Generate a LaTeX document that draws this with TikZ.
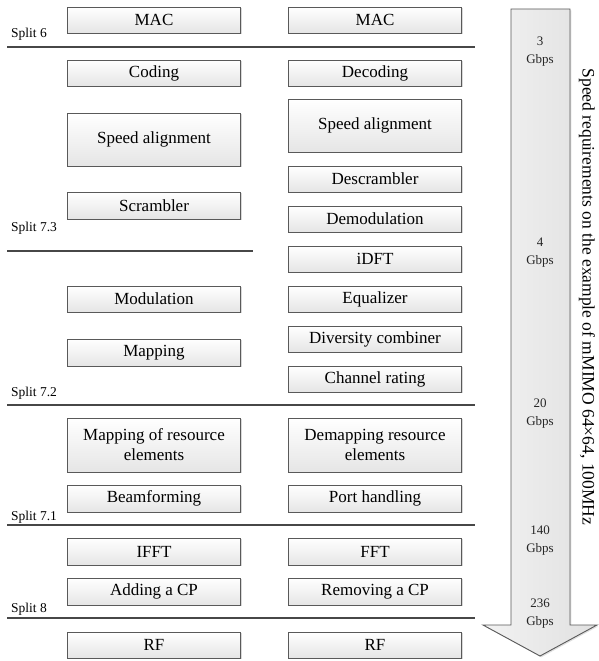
\documentclass[tikz,border=0pt]{standalone}
\usepackage{fontspec}
\setmainfont{Liberation Serif}
\usetikzlibrary{shadows}
\begin{document}
\begin{tikzpicture}[x=1pt,y=-1pt,
  blk/.style={draw=black!65, line width=0.9pt, top color=white, bottom color=black!10,
    minimum width=173pt, inner sep=0pt, align=center,
    font=\fontsize{17}{20}\selectfont,
    drop shadow={shadow xshift=1.3pt, shadow yshift=-1.3pt, opacity=0.3}},
  splitline/.style={draw=black!72, line width=1.3pt},
  splitlbl/.style={anchor=west, inner sep=0pt, font=\fontsize{13.5}{15}\selectfont},
  rate/.style={align=center, inner sep=0pt, font=\fontsize{13}{18}\selectfont, text=black!85},
]
\useasboundingbox (0,0) rectangle (598,661);

% arrow
\draw[draw=black!65, line width=0.9pt, left color=black!5, right color=black!12,
      drop shadow={shadow xshift=1.3pt, shadow yshift=-1.3pt, opacity=0.25}]
  (511,9) -- (570,9) -- (570,625) -- (597,625) -- (540,656) -- (483,625) -- (511,625) -- cycle;

% left column
\node[blk, minimum height=26pt] (macL) at (154,20) {MAC};
\node[blk, minimum height=26pt] (coding) at (154,73) {Coding};
\node[blk, minimum height=53pt] (speedL) at (154,139.5) {Speed alignment};
\node[blk, minimum height=27pt] (scr) at (154,205.5) {Scrambler};
\node[blk, minimum height=26pt] (mod) at (154,299) {Modulation};
\node[blk, minimum height=27pt] (mapp) at (154,352.5) {Mapping};
\node[blk, minimum height=54pt] (mapre) at (154,445) {Mapping of resource\\elements};
\node[blk, minimum height=27pt] (beam) at (154,498.5) {Beamforming};
\node[blk, minimum height=27pt] (ifft) at (154,551.5) {IFFT};
\node[blk, minimum height=27pt] (addcp) at (154,591.5) {Adding a CP};
\node[blk, minimum height=26pt] (rfL) at (154,645) {RF};

% right column
\node[blk, minimum height=26pt] (macR) at (375,20) {MAC};
\node[blk, minimum height=26pt] (decoding) at (375,73) {Decoding};
\node[blk, minimum height=53pt] (speedR) at (375,125.5) {Speed alignment};
\node[blk, minimum height=26pt] (descr) at (375,179) {Descrambler};
\node[blk, minimum height=26pt] (demod) at (375,219) {Demodulation};
\node[blk, minimum height=26pt] (idft) at (375,259) {iDFT};
\node[blk, minimum height=26pt] (eq) at (375,299) {Equalizer};
\node[blk, minimum height=26pt] (div) at (375,339) {Diversity combiner};
\node[blk, minimum height=26pt] (chan) at (375,379) {Channel rating};
\node[blk, minimum height=54pt] (demapre) at (375,445) {Demapping resource\\elements};
\node[blk, minimum height=27pt] (port) at (375,498.5) {Port handling};
\node[blk, minimum height=27pt] (fft) at (375,551.5) {FFT};
\node[blk, minimum height=27pt] (remcp) at (375,591.5) {Removing a CP};
\node[blk, minimum height=26pt] (rfR) at (375,645) {RF};

% split lines
\coordinate (s6a) at (7,47);   \coordinate (s6b) at (475,47);
\coordinate (s73a) at (7,251); \coordinate (s73b) at (253,251);
\coordinate (s72a) at (7,405); \coordinate (s72b) at (475,405);
\coordinate (s71a) at (7,525); \coordinate (s71b) at (475,525);
\coordinate (s8a) at (7,618);  \coordinate (s8b) at (475,618);
\draw[splitline] (s6a) -- (s6b);
\draw[splitline] (s73a) -- (s73b);
\draw[splitline] (s72a) -- (s72b);
\draw[splitline] (s71a) -- (s71b);
\draw[splitline] (s8a) -- (s8b);

\node[splitlbl] (l6) at (11,34) {Split 6};
\node[splitlbl] (l73) at (11,228) {Split 7.3};
\node[splitlbl] (l72) at (11,393) {Split 7.2};
\node[splitlbl] (l71) at (11,517) {Split 7.1};
\node[splitlbl] (l8) at (11,609) {Split 8};

% rates
\node[rate] (r1) at (540,52) {3\\Gbps};
\node[rate] (r2) at (540,253) {4\\Gbps};
\node[rate] (r3) at (540,414) {20\\Gbps};
\node[rate] (r4) at (540,541) {140\\Gbps};
\node[rate] (r5) at (540,614) {236\\Gbps};

\node[rotate=-90, inner sep=0pt, font=\fontsize{17.5}{20}\selectfont] (req) at (587,297)
  {Speed requirements on the example of mMIMO 64×64, 100MHz};
\end{tikzpicture}
\end{document}
